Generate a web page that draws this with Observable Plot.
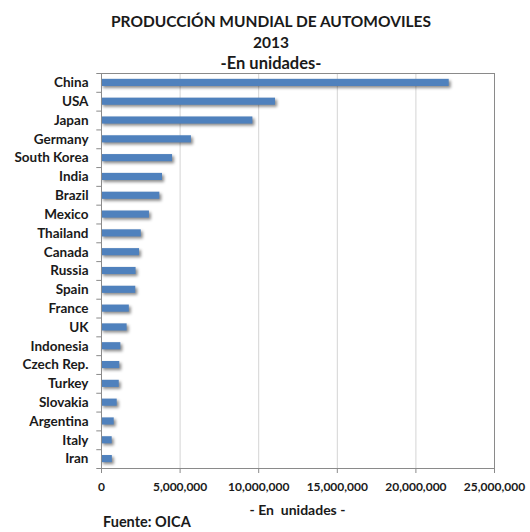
<!DOCTYPE html>
<html>
<head>
<meta charset="utf-8">
<script src="https://cdn.jsdelivr.net/npm/d3@7"></script>
<script src="https://cdn.jsdelivr.net/npm/@observablehq/plot@0.6"></script>
<style>
  html, body { margin: 0; padding: 0; background: #fff; }
  #wrap { position: relative; width: 530px; height: 532px; font-family: Lato, "Open Sans", sans-serif; color: #1a1a1a; }
  .t { position: absolute; left: 0; width: 542px; text-align: center; font-weight: bold; white-space: pre; }
  #title1 { top: 12px; font-size: 15.5px; }
  #title2 { top: 33px; font-size: 15.5px; }
  #title3 { top: 53px; font-size: 16.5px; }
  #xlabel { top: 501px; left: 101px; width: 393px; font-size: 14px; }
  #source { position: absolute; left: 103px; top: 513px; font-size: 14.5px; font-weight: bold; }
  #chart { position: absolute; left: 0; top: 0; }
</style>
</head>
<body>
<div id="wrap">
  <div id="chart"></div>
  <div class="t" id="title1">PRODUCCIÓN MUNDIAL DE AUTOMOVILES</div>
  <div class="t" id="title2">2013</div>
  <div class="t" id="title3">-En unidades-</div>
  <div class="t" id="xlabel">- En  unidades -</div>
  <div id="source">Fuente: OICA</div>
</div>
<script>
const countries = ["China","USA","Japan","Germany","South Korea","India","Brazil","Mexico","Thailand","Canada","Russia","Spain","France","UK","Indonesia","Czech Rep.","Turkey","Slovakia","Argentina","Italy","Iran"];
const values = [22120000, 11070000, 9630000, 5720000, 4520000, 3880000, 3710000, 3050000, 2530000, 2420000, 2200000, 2180000, 1770000, 1630000, 1230000, 1160000, 1130000, 1000000, 810000, 680000, 690000];
const xTicks = [0, 5000000, 10000000, 15000000, 20000000, 25000000];

const data = countries.map((c, i) => ({country: c, value: values[i]}));

const plotTop = 73, plotBottom = 468;
const step = (plotBottom - plotTop) / countries.length;

const chart = Plot.plot({
  width: 530,
  height: 510,
  marginTop: plotTop,
  marginBottom: 510 - plotBottom,
  marginLeft: 101,
  marginRight: 36,
  style: {fontFamily: "Lato, 'Open Sans', sans-serif", color: "#1a1a1a", background: "transparent"},
  x: {domain: [0, 25000000]},
  y: {domain: countries, paddingInner: 0.62, paddingOuter: 0.31, round: false},
  marks: [
    Plot.gridX(xTicks, {stroke: "#d4d4d4", strokeOpacity: 1}),
    Plot.barX(data, {x: "value", y: "country", fill: "#4F81BD"}),
    Plot.frame({stroke: "#8a8a8a"}),
    Plot.ruleY(countries, {y: d => d, dy: -step / 2, x1: -300000, x2: 0, stroke: "#8a8a8a"}),
    Plot.ruleY([countries[countries.length - 1]], {y: d => d, dy: step / 2, x1: -300000, x2: 0, stroke: "#8a8a8a"}),
    Plot.axisX(xTicks, {tickSize: 5, tickPadding: 9, stroke: "#8a8a8a", tickFormat: d3.format(","), fontWeight: "bold", fontSize: 12, label: null, fill: "#1a1a1a"}),
    Plot.axisY({tickSize: 0, tickPadding: 13, fontWeight: "bold", fontSize: 13.5, label: null, fill: "#1a1a1a"})
  ]
});
d3.select(chart).selectAll('g[aria-label="bar"] rect').style("filter", "drop-shadow(2px 2px 1.5px rgba(0,0,0,0.45))");
document.getElementById("chart").appendChild(chart);
</script>
</body>
</html>
